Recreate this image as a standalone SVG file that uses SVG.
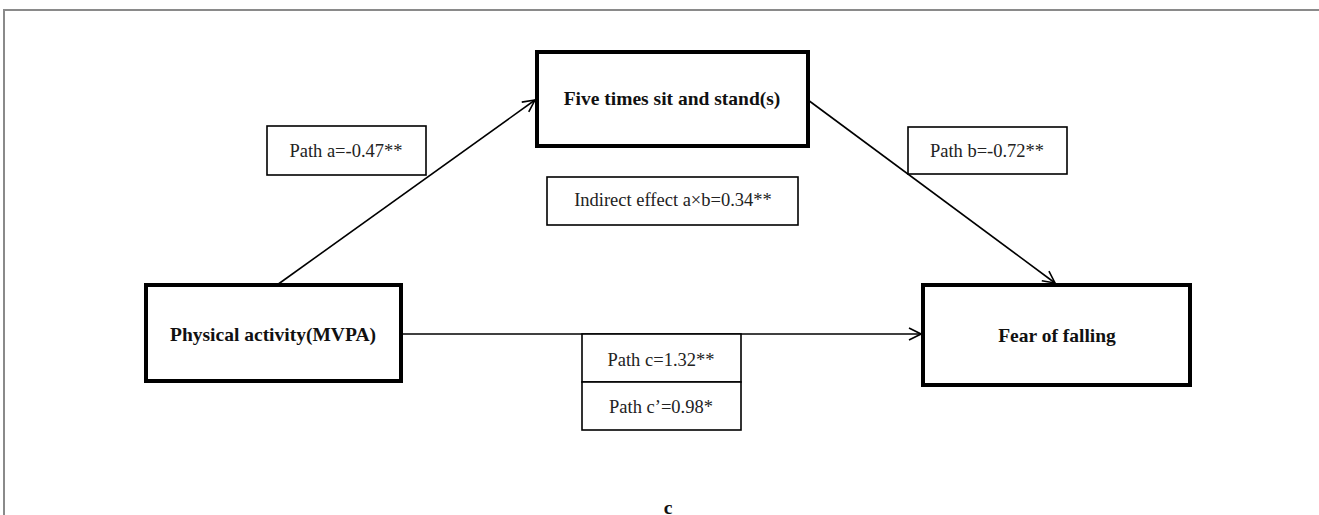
<svg xmlns="http://www.w3.org/2000/svg" width="1319" height="515" viewBox="0 0 1319 515">
<style>
.bg{fill:#ffffff}
.frame{fill:none;stroke:#8a8a8a;stroke-width:2}
.node{fill:#ffffff;stroke:#000;stroke-width:4}
.lab{fill:#ffffff;stroke:#000;stroke-width:1.6}
.bold{font-family:"Liberation Serif","Times New Roman",serif;font-weight:bold;font-size:19.5px;fill:#111;text-anchor:middle}
.reg{font-family:"Liberation Serif","Times New Roman",serif;font-size:18.5px;fill:#222;text-anchor:middle}
.edge{fill:none;stroke:#000;stroke-width:1.6}
</style>
<defs>
<marker id="arr" viewBox="0 0 14 14" refX="13" refY="7" markerWidth="14" markerHeight="14" markerUnits="userSpaceOnUse" orient="auto">
<path d="M1,1 L13,7 L1,13" fill="none" stroke="#000" stroke-width="1.6"/>
</marker>
</defs>
<rect class="bg" x="0" y="0" width="1319" height="515"/>
<path class="frame" d="M4,515 L4,10 L1319,10"/>
<g id="connectors">
<line class="edge" x1="277" y1="285" x2="535" y2="100" marker-end="url(#arr)"/>
<line class="edge" x1="808" y1="100" x2="1055" y2="283" marker-end="url(#arr)"/>
<line class="edge" x1="401" y1="334" x2="921" y2="334" marker-end="url(#arr)"/>
</g>
<g id="node-mediator">
<rect class="node" x="537" y="52" width="271" height="94"/>
<text class="bold" x="672" y="105">Five times sit and stand(s)</text>
</g>
<g id="node-pa">
<rect class="node" x="146" y="285" width="255" height="96"/>
<text class="bold" x="273" y="341">Physical activity(MVPA)</text>
</g>
<g id="node-fof">
<rect class="node" x="923" y="285" width="267" height="100"/>
<text class="bold" x="1057" y="342">Fear of falling</text>
</g>
<g id="label-a">
<rect class="lab" x="267" y="126" width="159" height="49"/>
<text class="reg" x="346" y="157">Path a=-0.47**</text>
</g>
<g id="label-b">
<rect class="lab" x="908" y="127" width="159" height="47"/>
<text class="reg" x="987" y="157">Path b=-0.72**</text>
</g>
<g id="label-indirect">
<rect class="lab" x="547" y="177" width="251" height="48"/>
<text class="reg" x="673" y="206">Indirect effect a×b=0.34**</text>
</g>
<g id="label-c">
<rect class="lab" x="582" y="334" width="159" height="48"/>
<rect class="lab" x="582" y="382" width="159" height="48"/>
<text class="reg" x="661" y="366">Path c=1.32**</text>
<text class="reg" x="661" y="413">Path c’=0.98*</text>
</g>
<text class="bold" x="668" y="514">c</text>
</svg>
